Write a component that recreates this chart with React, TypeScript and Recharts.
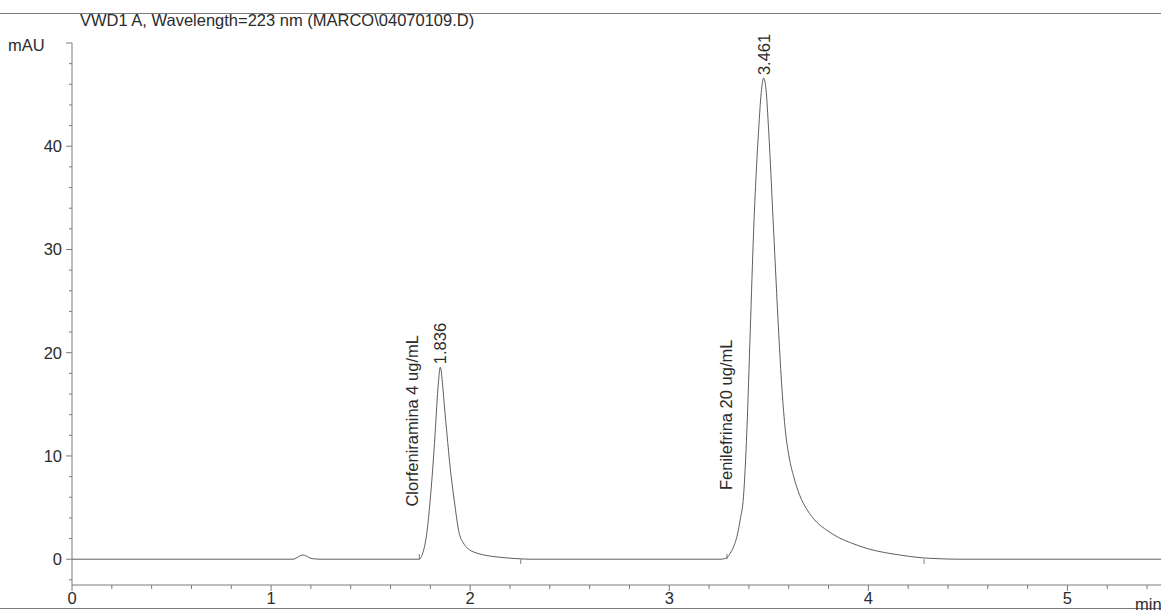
import { LineChart, Line, XAxis, YAxis, ReferenceDot, ReferenceLine } from "recharts";

// chromatogram trace: [time (min), signal (mAU)]
const leadIn: [number, number][] = [[0, 0], [0.5, 0], [1.0, 0], [1.11, 0]];
const impurityBump: [number, number][] = [
  [1.13, 0.15], [1.145, 0.32], [1.16, 0.4], [1.175, 0.33], [1.19, 0.17], [1.21, 0.04], [1.25, 0], [1.5, 0], [1.745, 0],
];
const clorfeniraminaPeak: [number, number][] = [
  [1.762, 0.6], [1.782, 2.5], [1.799, 5.7], [1.812, 8.8], [1.824, 12.2], [1.838, 16.5], [1.85, 18.6],
  [1.862, 16.8], [1.872, 14.5], [1.883, 12.2], [1.9, 8.8], [1.92, 5.7], [1.945, 2.5], [1.965, 1.6],
  [1.99, 1.0], [2.05, 0.5], [2.12, 0.25], [2.2, 0.1], [2.254, 0.03], [2.3, 0], [2.8, 0], [3.26, 0],
];
const fenilefrinaPeak: [number, number][] = [
  [3.29, 0.15], [3.307, 0.6], [3.325, 1.3], [3.34, 2.2], [3.356, 3.8], [3.373, 6.1], [3.39, 12.5],
  [3.407, 22.2], [3.424, 31.9], [3.449, 41.6], [3.462, 45.2], [3.474, 46.6], [3.486, 45.5], [3.499, 41.6],
  [3.524, 31.9], [3.549, 22.2], [3.566, 16.5], [3.583, 12.5], [3.603, 9.8], [3.625, 8.0], [3.655, 6.2],
  [3.692, 4.8], [3.74, 3.6], [3.792, 2.8], [3.85, 2.1], [3.91, 1.6], [4.0, 1.0], [4.08, 0.65],
  [4.16, 0.4], [4.26, 0.15], [4.35, 0.05], [4.45, 0],
];
const tailOut: [number, number][] = [[4.8, 0], [5.2, 0], [5.47, 0]];

// integration markers on the baseline
const peakStarts = [1.745, 3.29];
const peakEnds = [2.254, 4.28];

const peaks = [
  { rt: "1.836", apexT: 1.85, apexV: 18.6, name: "Clorfeniramina 4 ug/mL", nameT: 1.709, nameV: 5.1 },
  { rt: "3.461", apexT: 3.474, apexV: 46.6, name: "Fenilefrina 20 ug/mL", nameT: 3.284, nameV: 6.7 },
];

const xTicks = [
  0, 0.2, 0.4, 0.6, 0.8, 1, 1.2, 1.4, 1.6, 1.8, 2, 2.2, 2.4, 2.6, 2.8, 3, 3.2, 3.4, 3.6, 3.8, 4,
  4.2, 4.4, 4.6, 4.8, 5, 5.2, 5.4,
];
const yTicks = [-2, 0, 2, 4, 6, 8, 10, 12, 14, 16, 18, 20, 22, 24, 26, 28, 30, 32, 34, 36, 38, 40, 42, 44, 46, 48, 50];
const yLabelled = [0, 10, 20, 30, 40];

const title = "VWD1 A, Wavelength=223 nm (MARCO\\04070109.D)";

const data = [...leadIn, ...impurityBump, ...clorfeniraminaPeak, ...fenilefrinaPeak, ...tailOut].map(([t, v]) => ({ t, v }));

const FONT = "'Liberation Sans', Arial, sans-serif";
const FS = 16.5;
const INK = "#2b2b2b";
const AXIS = "#7a7a7a";

function XTick({ x, y, payload }: any) {
  const major = Number.isInteger(payload.value);
  return (
    <g>
      <line x1={x} x2={x} y1={y} y2={y + (major ? 6 : 4)} stroke={AXIS} />
      {major && (
        <text x={x} y={y + 19} textAnchor="middle" fontSize={FS} fill={INK} fontFamily={FONT}>
          {payload.value}
        </text>
      )}
    </g>
  );
}

function YTick({ x, y, payload }: any) {
  const v = payload.value;
  const major = v % 10 === 0;
  return (
    <g>
      <line x1={x} x2={x - (major ? 6 : 3)} y1={y} y2={y} stroke={AXIS} />
      {yLabelled.includes(v) && (
        <text x={x - 10} y={y} textAnchor="end" dominantBaseline="central" fontSize={FS} fill={INK} fontFamily={FONT}>
          {v}
        </text>
      )}
    </g>
  );
}

const rotated = (text: string, gap: number) => (p: any) => (
  <text
    x={p.cx}
    y={p.cy - gap}
    transform={`rotate(-90 ${p.cx} ${p.cy - gap})`}
    textAnchor="start"
    dominantBaseline="central"
    fontSize={FS}
    fill={INK}
    fontFamily={FONT}
  >
    {text}
  </text>
);

export default function App() {
  return (
    <div style={{ position: "absolute", left: 0, top: 0, width: 1161, height: 612, background: "#fff" }}>
      <LineChart width={1161} height={612} data={data} margin={{ top: 43, right: 0, bottom: 0, left: 0 }}>
        <XAxis
          dataKey="t"
          type="number"
          domain={[0, 5.47]}
          allowDataOverflow
          ticks={xTicks}
          interval={0}
          tickSize={0}
          tickMargin={0}
          tick={<XTick />}
          height={27}
          axisLine={{ stroke: AXIS }}
        />
        <YAxis
          type="number"
          domain={[-2.5, 50]}
          allowDataOverflow
          ticks={yTicks}
          interval={0}
          tickSize={0}
          tickMargin={0}
          tick={<YTick />}
          width={72}
          axisLine={{ stroke: AXIS }}
        />
        {peakStarts.map((t) => (
          <ReferenceLine key={"s" + t} segment={[{ x: t, y: 0 }, { x: t, y: 0.5 }]} stroke={AXIS} />
        ))}
        {peakEnds.map((t) => (
          <ReferenceLine key={"e" + t} segment={[{ x: t, y: 0 }, { x: t, y: -0.45 }]} stroke={AXIS} />
        ))}
        <Line
          dataKey="v"
          type="monotone"
          stroke="#5e5e5e"
          strokeWidth={1}
          dot={false}
          isAnimationActive={false}
        />
        {peaks.map((p) => (
          <ReferenceDot key={p.rt} x={p.apexT} y={p.apexV} r={0} shape={rotated(p.rt, 3)} />
        ))}
        {peaks.map((p) => (
          <ReferenceDot key={p.name} x={p.nameT} y={p.nameV} r={0} shape={rotated(p.name, 0)} />
        ))}
      </LineChart>
      <svg width={1161} height={612} style={{ position: "absolute", left: 0, top: 0, pointerEvents: "none" }}>
        <line x1={0} x2={1161} y1={13.5} y2={13.5} stroke={AXIS} />
        <line x1={0} x2={1161} y1={608.5} y2={608.5} stroke={AXIS} />
        <text x={80} y={26} fontSize={FS} fill={INK} fontFamily={FONT}>
          {title}
        </text>
        <text x={8} y={51} fontSize={FS} fill={INK} fontFamily={FONT}>
          mAU
        </text>
        <text x={1135} y={610} fontSize={FS} fill={INK} fontFamily={FONT}>
          min
        </text>
      </svg>
    </div>
  );
}
